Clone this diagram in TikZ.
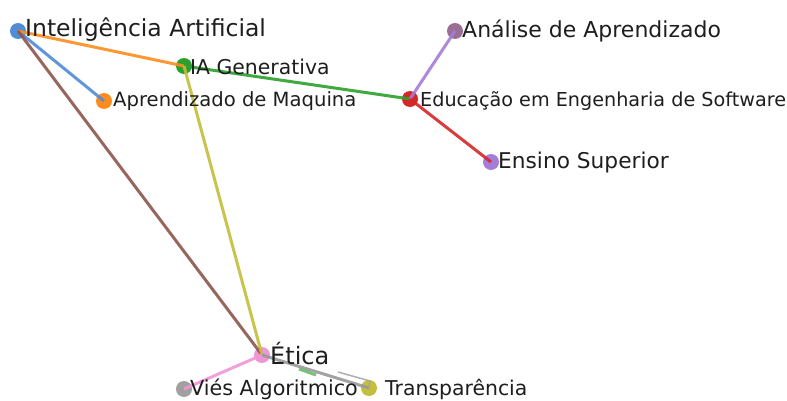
\documentclass[tikz,border=0pt]{standalone}
\usepackage{fontspec}
\setmainfont{DejaVu Sans}
\definecolor{cBlue}{RGB}{80,140,215}
\definecolor{cOrange}{RGB}{255,140,30}
\definecolor{cGreen}{RGB}{44,160,44}
\definecolor{cRed}{RGB}{214,39,40}
\definecolor{cPlum}{RGB}{155,110,150}
\definecolor{cLav}{RGB}{165,125,215}
\definecolor{cPink}{RGB}{240,150,215}
\definecolor{cGray}{RGB}{160,160,160}
\definecolor{cOlive}{RGB}{195,190,60}
\definecolor{cBrown}{RGB}{140,86,75}
\definecolor{cText}{RGB}{30,30,30}
\begin{document}
\begin{tikzpicture}[x=1pt,y=-1pt,
  dot/.style={circle,inner sep=0pt,minimum size=16pt,fill=#1},
  lbl/.style={anchor=west,inner sep=0pt,text=cText},
  edge/.style={draw=#1,line width=3pt,opacity=0.9}]
\useasboundingbox[fill=white] (0,0) rectangle (787,401);
% nodes
\node[dot=cBlue]   (ia)   at (18,31) {};
\node[dot=cGreen]  (gen)  at (184,66) {};
\node[dot=cOrange] (apr)  at (104,101) {};
\node[dot=cPlum]   (ana)  at (455,31) {};
\node[dot=cRed]    (edu)  at (410,99) {};
\node[dot=cLav]    (ens)  at (491,162) {};
\node[dot=cPink]   (eti)  at (262,355) {};
\node[dot=cGray]   (vie)  at (184,389) {};
\node[dot=cOlive]  (tra)  at (369,388) {};
% edges
\draw[edge=cBlue]   (ia.center) -- (apr.center);
\draw[edge=cOrange] (ia.center) -- (gen.center);
\draw[edge=cBrown]  (ia.center) -- (eti.center);
\draw[edge=cGreen]  (gen.center) -- (edu.center);
\draw[edge=cOlive]  (gen.center) -- (eti.center);
\draw[edge=cLav]    (edu.center) -- (ana.center);
\draw[edge=cRed]    (edu.center) -- (ens.center);
\draw[edge=cPink]   (eti.center) -- (vie.center);
\draw[edge=gray!80] (eti.center) -- (tra.center);
\coordinate (g1) at (299,369);
\coordinate (g2) at (316,375);
\coordinate (h1) at (338,372);
\coordinate (h2) at (370,381);
\draw[edge=cGreen!70, line width=3pt] (g1) -- (g2);
\draw[edge=gray!70, line width=1.5pt] (h1) -- (h2) -- (tra.center);
% labels
\node[lbl,font=\fontsize{23.5}{23.5}\selectfont] at (25,30) {Inteligência Artificial};
\node[lbl,font=\fontsize{20.4}{20.4}\selectfont] at (190,67) {IA Generativa};
\node[lbl,font=\fontsize{19.6}{19.6}\selectfont] at (113,101) {Aprendizado de Maquina};
\node[lbl,font=\fontsize{22}{22}\selectfont] at (462,31) {Análise de Aprendizado};
\node[lbl,font=\fontsize{19.2}{19.2}\selectfont] at (420,101) {Educação em Engenharia de Software};
\node[lbl,font=\fontsize{21.7}{21.7}\selectfont] at (498,163) {Ensino Superior};
\node[lbl,font=\fontsize{24}{24}\selectfont] at (270,354) {Ética};
\node[lbl,font=\fontsize{20.7}{20.7}\selectfont] at (190,389) {Viés Algoritmico};
\node[lbl,font=\fontsize{20.4}{20.4}\selectfont] at (385,389) {Transparência};
\end{tikzpicture}
\end{document}
